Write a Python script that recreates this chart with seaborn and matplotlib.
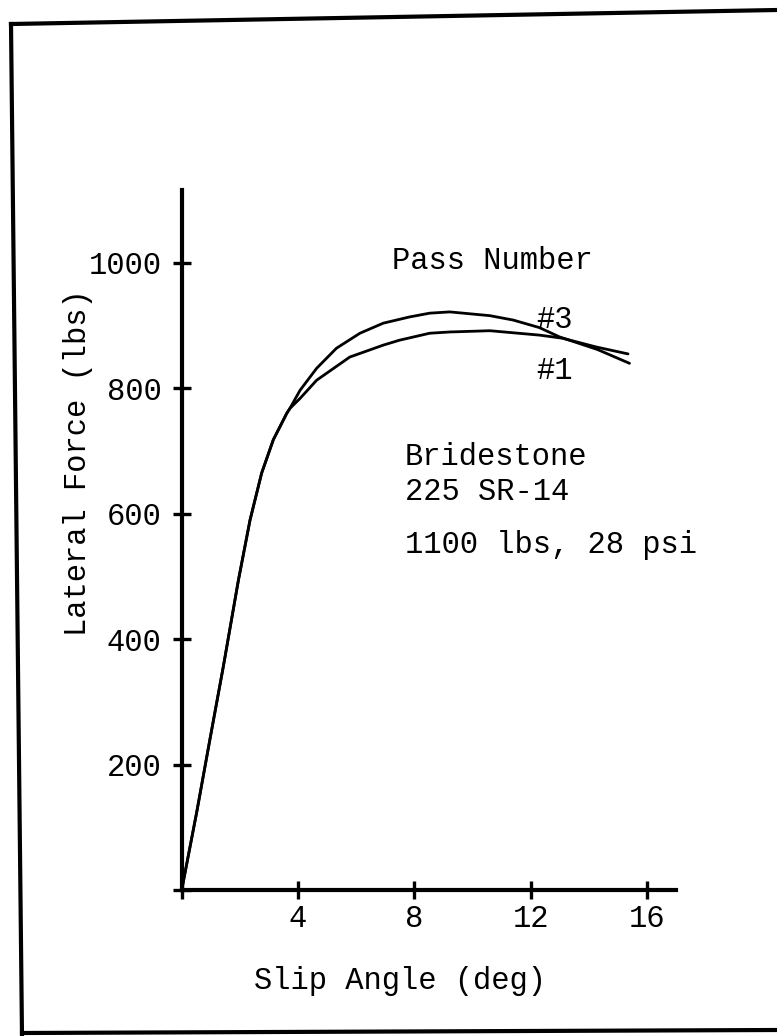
import numpy as np
import pandas as pd
import matplotlib
matplotlib.use("Agg")
import matplotlib.pyplot as plt
import seaborn as sns
from matplotlib.lines import Line2D

# ---- data ----
shared_deg = [0.0, 0.52, 0.97, 1.43, 1.95, 2.35, 2.75, 3.15, 3.61, 3.72]
shared_lbs = [0, 125, 240, 356, 494, 590, 665, 718, 760, 768]

pass1_deg = [4.07, 4.64, 5.78, 6.93, 7.5, 8.53, 9.22, 10.6, 12.3, 13.1, 14.26, 15.35]
pass1_lbs = [784, 813, 850, 869, 877, 888, 890, 892, 885, 880, 866, 855]

pass3_deg = [4.07, 4.64, 5.32, 6.13, 6.93, 7.84, 8.53, 9.22, 9.68, 10.6, 11.4, 12.3, 13.0, 14.3, 15.4]
pass3_lbs = [797, 832, 864, 888, 904, 914, 920, 922, 920, 916, 909, 897, 882, 862, 840]

x_ticks = [0, 4, 8, 12, 16]
x_tick_labels = ["", "4", "8", "12", "16"]
y_ticks = [0, 200, 400, 600, 800, 1000]
y_tick_labels = ["", "200", "400", "600", "800", "1000"]

rows = []
for name, d, v in [("#1", shared_deg + pass1_deg, shared_lbs + pass1_lbs),
                   ("#3", shared_deg + pass3_deg, shared_lbs + pass3_lbs)]:
    for a, b in zip(d, v):
        rows.append({"pass": name, "deg": a, "lbs": b})
df = pd.DataFrame(rows)

sns.set_theme(style="white")
plt.rcParams["font.family"] = ["Liberation Mono", "DejaVu Sans Mono"]
FS = 22

W, H = 777, 1036
fig = plt.figure(figsize=(W / 100, H / 100), dpi=100)
fig.patch.set_facecolor("white")

x0, y0, x1, y1 = 181.7, 890, 676, 190
ax = fig.add_axes([x0 / W, (H - y0) / H, (x1 - x0) / W, (y0 - y1) / H])
ax.set_facecolor("white")

sns.lineplot(data=df, x="deg", y="lbs", hue="pass", palette=["black", "black"],
             estimator=None, sort=False, legend=False, linewidth=2.0, ax=ax)

ax.set_xlim(0, 17)
ax.set_ylim(0, (y0 - y1) / 0.627)

for s in ["top", "right"]:
    ax.spines[s].set_visible(False)
for s in ["left", "bottom"]:
    ax.spines[s].set_linewidth(3.0)
    ax.spines[s].set_color("black")

ax.set_xticks(x_ticks)
ax.set_xticklabels(x_tick_labels)
ax.set_yticks(y_ticks)
ax.set_yticklabels(y_tick_labels)
ax.tick_params(axis="both", which="major", bottom=True, left=True,
               direction="inout", length=13, width=2.4, color="black",
               labelsize=FS, labelcolor="black")
ax.tick_params(axis="y", pad=8.0)
ax.tick_params(axis="x", pad=3.5)

ax.set_xlabel("Slip Angle (deg)", fontsize=FS, color="black")
ax.set_ylabel("Lateral Force (lbs)", fontsize=FS, color="black")
ax.xaxis.set_label_coords(0.441, -0.108)
ax.yaxis.set_label_coords(-0.180, 0.611)

txt = dict(fontsize=FS, color="black", va="baseline", ha="left", clip_on=False)
ax.text(7.23, 990, "Pass Number", **txt)
ax.text(12.2, 896, "#3", **txt)
ax.text(12.2, 815, "#1", **txt)
ax.text(7.67, 678, "Bridestone", **txt)
ax.text(7.67, 622, "225 SR-14", **txt)
ax.text(7.67, 537, "1100 lbs, 28 psi", **txt)

# page frame of the scanned sheet
def fl(xa, ya, xb, yb):
    fig.add_artist(Line2D([xa / W, xb / W], [1 - ya / H, 1 - yb / H],
                          transform=fig.transFigure, color="black", linewidth=3.0,
                          solid_capstyle="projecting"))
fl(11, 24, 777, 10)
fl(11, 24, 22, 1036)
fl(22, 1033, 777, 1030)

fig.savefig("out.png", dpi=100, facecolor="white")
